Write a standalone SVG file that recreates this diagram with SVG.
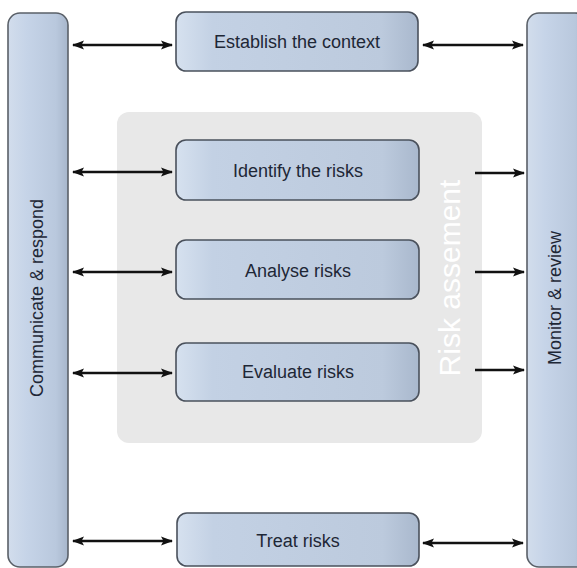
<svg xmlns="http://www.w3.org/2000/svg" width="577" height="568" viewBox="0 0 577 568">
<style>
.box{fill:url(#boxg);stroke:#4a515c;stroke-width:1.6}
.bar{fill:url(#barg);stroke:#5a6068;stroke-width:1.6}
.lbl{font-family:"Liberation Sans",Arial,sans-serif;font-size:18px;fill:#1e2736;text-anchor:middle;dominant-baseline:central}
.conn{stroke:#111;stroke-width:2.4;fill:none}
</style>
<defs>
<linearGradient id="boxg" x1="0" y1="0" x2="1" y2="0">
<stop offset="0" stop-color="#d6e1ef"/>
<stop offset="0.15" stop-color="#c3d1e4"/>
<stop offset="0.85" stop-color="#bccadd"/>
<stop offset="1" stop-color="#a9b8cd"/>
</linearGradient>
<linearGradient id="barg" x1="0" y1="0" x2="1" y2="0">
<stop offset="0" stop-color="#d2ddec"/>
<stop offset="0.3" stop-color="#c6d4e8"/>
<stop offset="0.8" stop-color="#b9c8dd"/>
<stop offset="1" stop-color="#a7b6cb"/>
</linearGradient>
<marker id="ah" viewBox="0 0 12 10" refX="11" refY="5" markerWidth="12" markerHeight="10" markerUnits="userSpaceOnUse" orient="auto-start-reverse">
<path d="M0,0.5 L12,5 L0,9.5 L2.5,5 Z" fill="#111"/>
</marker>
</defs>
<rect width="577" height="568" fill="#ffffff"/>
<g id="risk-assessment">
<rect x="117" y="112" width="365" height="331" rx="12" fill="#e8e8e8"/>
<text x="449" y="278" transform="rotate(-90 449 278)" font-family="Liberation Sans,Arial,sans-serif" font-size="30" fill="#ffffff" text-anchor="middle" dominant-baseline="central">Risk assement</text>
</g>
<g id="communicate">
<rect class="bar" x="8" y="13" width="60" height="554" rx="12"/>
<text class="lbl" x="37" y="298" transform="rotate(-90 37 298)">Communicate &amp; respond</text>
</g>
<g id="monitor">
<rect class="bar" x="527" y="13" width="60" height="554" rx="12"/>
<text class="lbl" x="555" y="298" transform="rotate(-90 555 298)">Monitor &amp; review</text>
</g>
<g id="establish">
<rect class="box" x="176" y="12" width="242" height="59" rx="10"/>
<text class="lbl" x="297" y="42">Establish the context</text>
</g>
<g id="identify">
<rect class="box" x="176" y="140" width="243" height="60" rx="10"/>
<text class="lbl" x="298" y="171">Identify the risks</text>
</g>
<g id="analyse">
<rect class="box" x="176" y="240" width="243" height="59" rx="10"/>
<text class="lbl" x="298" y="271">Analyse risks</text>
</g>
<g id="evaluate">
<rect class="box" x="176" y="343" width="243" height="58" rx="10"/>
<text class="lbl" x="298" y="372">Evaluate risks</text>
</g>
<g id="treat">
<rect class="box" x="177" y="513" width="242" height="53" rx="10"/>
<text class="lbl" x="298" y="541">Treat risks</text>
</g>
<g id="connectors">
<line class="conn" x1="73" y1="45" x2="172" y2="45" marker-start="url(#ah)" marker-end="url(#ah)"/>
<line class="conn" x1="423" y1="45" x2="523" y2="45" marker-start="url(#ah)" marker-end="url(#ah)"/>
<line class="conn" x1="73" y1="172" x2="172" y2="172" marker-start="url(#ah)" marker-end="url(#ah)"/>
<line class="conn" x1="73" y1="272" x2="172" y2="272" marker-start="url(#ah)" marker-end="url(#ah)"/>
<line class="conn" x1="73" y1="373" x2="172" y2="373" marker-start="url(#ah)" marker-end="url(#ah)"/>
<line class="conn" x1="73" y1="541" x2="172" y2="541" marker-start="url(#ah)" marker-end="url(#ah)"/>
<line class="conn" x1="423" y1="543" x2="523" y2="543" marker-start="url(#ah)" marker-end="url(#ah)"/>
<line class="conn" x1="475" y1="173" x2="524" y2="173" marker-end="url(#ah)"/>
<line class="conn" x1="475" y1="272" x2="524" y2="272" marker-end="url(#ah)"/>
<line class="conn" x1="475" y1="370" x2="524" y2="370" marker-end="url(#ah)"/>
</g>
</svg>
